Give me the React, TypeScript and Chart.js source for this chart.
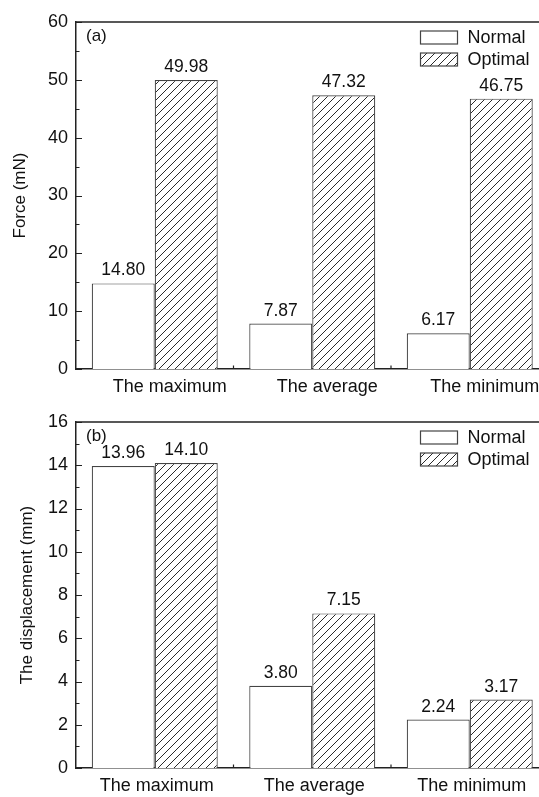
import React, { useEffect, useRef } from "react";
import { Chart, registerables } from "chart.js";

Chart.register(...registerables);

const categories = ["The maximum", "The average", "The minimum"];
const seriesNames = ["Normal", "Optimal"];
const forceNormal = [14.8, 7.87, 6.17];
const forceOptimal = [49.98, 47.32, 46.75];
const dispNormal = [13.96, 3.8, 2.24];
const dispOptimal = [14.1, 7.15, 3.17];
const forceTicks = [0, 60, 10];
const dispTicks = [0, 16, 2];

const FONT = "'Liberation Sans', Arial, sans-serif";
const INK = "#111111";
const EDGE = "#444444";

function makeHatch(): CanvasPattern | string {
  const s = 8;
  const c = document.createElement("canvas");
  c.width = s;
  c.height = s;
  const g = c.getContext("2d");
  if (!g) return "#fff";
  g.fillStyle = "#ffffff";
  g.fillRect(0, 0, s, s);
  g.strokeStyle = "#2a2a2a";
  g.lineWidth = 1;
  g.beginPath();
  g.moveTo(0, s);
  g.lineTo(s, 0);
  g.moveTo(-1, 1);
  g.lineTo(1, -1);
  g.moveTo(s - 1, s + 1);
  g.lineTo(s + 1, s - 1);
  g.stroke();
  const p = g.createPattern(c, "repeat");
  return p || "#fff";
}

type PanelProps = {
  normal: number[];
  optimal: number[];
  ticks: number[];
  title: string;
  tag: string;
  height: number;
  padTop: number;
  titlePad: number;
  labelOffset: number;
};

function Panel(props: PanelProps) {
  const ref = useRef<HTMLCanvasElement | null>(null);
  useEffect(() => {
    if (!ref.current) return;
    const hatch = makeHatch();
    const [tmin, tmax, tstep] = props.ticks;

    const extras = {
      id: "extras",
      afterDatasetsDraw(chart: any) {
        const ctx = chart.ctx;
        ctx.save();
        ctx.font = `17.5px ${FONT}`;
        ctx.fillStyle = INK;
        ctx.textAlign = "center";
        ctx.textBaseline = "bottom";
        chart.data.datasets.forEach((ds: any, di: number) => {
          const meta = chart.getDatasetMeta(di);
          meta.data.forEach((el: any, i: number) => {
            ctx.fillText(Number(ds.data[i]).toFixed(2), el.x, el.y - 4);
          });
        });
        ctx.restore();
      },
      afterDraw(chart: any) {
        const ctx = chart.ctx;
        const { left, top, right, bottom } = chart.chartArea;
        const x = chart.scales.x;
        const y = chart.scales.y;
        ctx.save();
        ctx.strokeStyle = "#222";
        ctx.lineWidth = 1.5;
        ctx.beginPath();
        ctx.moveTo(left, top);
        ctx.lineTo(right, top);
        ctx.lineTo(right, bottom);
        ctx.stroke();
        // inward y ticks
        ctx.lineWidth = 1.2;
        ctx.beginPath();
        for (let v = tmin; v <= tmax + 1e-9; v += tstep / 2) {
          const major = Math.abs(((v - tmin) / tstep) - Math.round((v - tmin) / tstep)) < 1e-6;
          const py = Math.round(y.getPixelForValue(v)) + 0.5;
          ctx.moveTo(left, py);
          ctx.lineTo(left + (major ? 6 : 3.5), py);
        }
        // x ticks at category boundaries
        for (let i = 0; i < categories.length - 1; i++) {
          const px = (x.getPixelForValue(i) + x.getPixelForValue(i + 1)) / 2;
          ctx.moveTo(px, bottom);
          ctx.lineTo(px, bottom - 3.5);
        }
        ctx.stroke();

        // panel tag
        ctx.fillStyle = INK;
        ctx.font = `17px ${FONT}`;
        ctx.textAlign = "left";
        ctx.textBaseline = "middle";
        ctx.fillText(props.tag, left + 10, top + 14);

        // legend
        const bx = right - 128;
        const bw = 37;
        const bh = 13;
        const rows = [
          { name: seriesNames[0], fill: "#ffffff", y: top + 9 },
          { name: seriesNames[1], fill: hatch, y: top + 31 },
        ];
        ctx.font = `18px ${FONT}`;
        rows.forEach((r) => {
          ctx.fillStyle = r.fill as any;
          ctx.fillRect(bx, r.y, bw, bh);
          ctx.strokeStyle = EDGE;
          ctx.lineWidth = 1.2;
          ctx.strokeRect(bx, r.y, bw, bh);
          ctx.fillStyle = INK;
          ctx.textAlign = "left";
          ctx.textBaseline = "middle";
          ctx.fillText(r.name, bx + 47, r.y + bh / 2 + 0.5);
        });
        ctx.restore();
      },
    };

    const chart = new Chart(ref.current, {
      type: "bar",
      data: {
        labels: categories,
        datasets: [
          {
            label: seriesNames[0],
            data: props.normal,
            backgroundColor: "#ffffff",
            borderColor: EDGE,
            borderWidth: 1.2,
            categoryPercentage: 0.8,
            barPercentage: 1.0,
          },
          {
            label: seriesNames[1],
            data: props.optimal,
            backgroundColor: hatch as any,
            borderColor: EDGE,
            borderWidth: 1.2,
            categoryPercentage: 0.8,
            barPercentage: 1.0,
          },
        ],
      },
      options: {
        responsive: false,
        animation: false,
        devicePixelRatio: 1,
        layout: { padding: { top: props.padTop, right: 11.5, left: 0, bottom: 0 } },
        plugins: {
          legend: { display: false },
          tooltip: { enabled: false },
        },
        scales: {
          x: {
            type: "category",
            offset: true,
            grid: { display: false, drawTicks: false },
            border: { display: true, color: "#222", width: 1.5 },
            ticks: {
              color: INK,
              font: { family: FONT, size: 18 },
              padding: 7,
              labelOffset: props.labelOffset,
              maxRotation: 0,
              autoSkip: false,
            },
            afterFit: (s: any) => {
              s.height = 29;
            },
          },
          y: {
            min: tmin,
            max: tmax,
            grid: { display: false, drawTicks: false },
            border: { display: true, color: "#222", width: 1.5 },
            ticks: {
              stepSize: tstep,
              color: INK,
              font: { family: FONT, size: 18 },
              padding: 8,
            },
            title: {
              display: true,
              text: props.title,
              color: INK,
              font: { family: FONT, size: 17 },
              padding: { top: props.titlePad, bottom: 0 },
            },
            afterFit: (s: any) => {
              s.width = 76;
            },
          },
        },
      },
      plugins: [extras],
    } as any);
    return () => chart.destroy();
  }, []);
  return (
    <canvas
      ref={ref}
      width={560}
      height={props.height}
      style={{ display: "block", width: 560, height: props.height }}
    />
  );
}

export default function App() {
  return (
    <div
      style={{
        position: "fixed",
        left: 0,
        top: 0,
        width: 539,
        height: 797,
        overflow: "hidden",
        background: "#fff",
      }}
    >
      <Panel
        normal={forceNormal}
        optimal={forceOptimal}
        ticks={forceTicks}
        title="Force (mN)"
        tag="(a)"
        height={398}
        padTop={22}
        titlePad={10}
        labelOffset={15}
      />
      <Panel
        normal={dispNormal}
        optimal={dispOptimal}
        ticks={dispTicks}
        title="The displacement (mm)"
        tag="(b)"
        height={399}
        padTop={24}
        titlePad={17}
        labelOffset={2}
      />
    </div>
  );
}
